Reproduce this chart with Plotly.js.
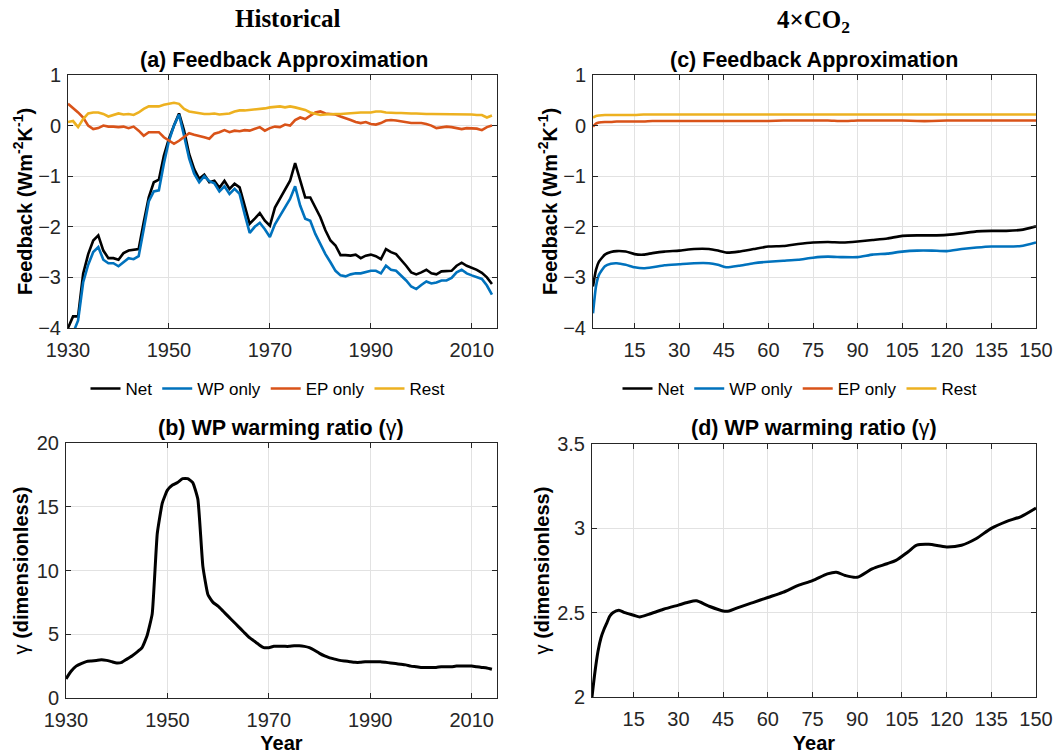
<!DOCTYPE html>
<html>
<head>
<meta charset="utf-8">
<script src="https://cdn.plot.ly/plotly-3.0.1.min.js"></script>
<style>
  html, body { margin: 0; padding: 0; background: #fff; }
  #chart { width: 1055px; height: 754px; }
</style>
</head>
<body>
<div id="chart"></div>
<script>
// ---------------- DATA ----------------
// Historical (annual, 1930-2014)
const histStartYear = 1930;
const netHist = [-4.0,-3.77,-3.77,-2.93,-2.54,-2.27,-2.17,-2.47,-2.62,-2.62,
  -2.65,-2.52,-2.47,-2.46,-2.44,-1.91,-1.42,-1.12,-1.07,-0.59,
  -0.26,0.0,0.24,-0.1,-0.56,-0.86,-1.05,-0.97,-1.12,-1.09,
  -1.23,-1.09,-1.25,-1.15,-1.22,-1.58,-1.94,-1.84,-1.73,-1.88,
  -1.98,-1.62,-1.45,-1.28,-1.09,-0.74,-1.09,-1.42,-1.42,-1.61,
  -1.81,-2.07,-2.27,-2.37,-2.56,-2.56,-2.57,-2.55,-2.62,-2.57,
  -2.55,-2.58,-2.64,-2.44,-2.50,-2.54,-2.65,-2.77,-2.90,-2.94,
  -2.90,-2.85,-2.92,-2.94,-2.88,-2.88,-2.87,-2.77,-2.71,-2.77,
  -2.81,-2.85,-2.91,-3.0,-3.13];
const wpHist = [-4.6,-4.1,-3.85,-3.1,-2.75,-2.5,-2.40,-2.65,-2.72,-2.72,
  -2.78,-2.70,-2.62,-2.64,-2.58,-2.05,-1.5,-1.3,-1.28,-0.75,
  -0.3,0.0,0.22,-0.2,-0.65,-0.95,-1.12,-1.0,-1.1,-1.14,
  -1.3,-1.2,-1.35,-1.25,-1.35,-1.75,-2.12,-2.0,-1.92,-2.05,
  -2.2,-1.95,-1.78,-1.61,-1.45,-1.2,-1.58,-1.84,-1.88,-2.14,
  -2.34,-2.54,-2.70,-2.87,-2.96,-2.98,-2.94,-2.92,-2.92,-2.89,
  -2.87,-2.87,-2.92,-2.77,-2.85,-2.87,-2.96,-3.06,-3.18,-3.23,
  -3.15,-3.08,-3.12,-3.10,-3.06,-3.06,-3.01,-2.90,-2.85,-2.92,
  -2.96,-3.0,-3.03,-3.16,-3.34];
const epHist = [0.43,0.35,0.26,0.16,0.0,-0.07,-0.05,0.0,-0.02,-0.02,
  -0.03,-0.02,-0.05,-0.02,-0.1,-0.2,-0.13,-0.13,-0.13,-0.23,
  -0.3,-0.36,-0.3,-0.22,-0.15,-0.18,-0.2,-0.23,-0.26,-0.16,
  -0.13,-0.09,-0.13,-0.1,-0.11,-0.09,-0.1,-0.07,-0.03,-0.1,
  -0.05,-0.02,-0.03,0.02,0.0,0.11,0.16,0.13,0.2,0.26,
  0.28,0.24,0.23,0.22,0.18,0.15,0.11,0.07,0.05,0.07,
  0.03,0.02,0.05,0.1,0.11,0.1,0.08,0.07,0.05,0.05,
  0.05,0.03,0.0,-0.05,-0.03,-0.02,-0.03,-0.05,-0.07,-0.05,
  -0.05,-0.06,-0.09,-0.03,0.0];
const restHist = [0.07,0.09,-0.03,0.13,0.24,0.26,0.26,0.23,0.18,0.21,
  0.24,0.22,0.23,0.21,0.26,0.33,0.38,0.38,0.38,0.41,
  0.43,0.45,0.43,0.33,0.28,0.26,0.24,0.23,0.23,0.24,
  0.22,0.23,0.24,0.28,0.3,0.3,0.31,0.31,0.33,0.34,
  0.36,0.37,0.38,0.36,0.38,0.36,0.33,0.31,0.26,0.23,
  0.21,0.22,0.23,0.23,0.23,0.24,0.24,0.26,0.26,0.26,
  0.26,0.28,0.28,0.26,0.25,0.25,0.25,0.24,0.24,0.24,
  0.23,0.23,0.23,0.23,0.23,0.23,0.23,0.23,0.22,0.23,
  0.22,0.21,0.21,0.16,0.2];
const gammaHist = [1.5,2.1,2.5,2.7,2.85,2.9,2.95,3.0,2.95,2.85,
  2.75,2.8,3.05,3.3,3.6,3.95,4.9,6.6,12.9,15.3,
  16.3,16.7,16.9,17.2,17.2,16.9,15.6,10.3,8.1,7.5,
  7.2,6.8,6.4,6.0,5.6,5.2,4.8,4.5,4.2,3.95,
  3.95,4.05,4.05,4.05,4.05,4.1,4.1,4.05,3.95,3.75,
  3.5,3.3,3.15,3.05,2.95,2.9,2.85,2.8,2.8,2.85,
  2.85,2.85,2.85,2.8,2.75,2.7,2.65,2.6,2.5,2.45,
  2.4,2.4,2.4,2.4,2.45,2.45,2.45,2.5,2.5,2.5,
  2.5,2.45,2.4,2.35,2.25];

// 4xCO2 feedback (years since abrupt 4xCO2)
const co2Years = [1,2,3,5,7,9,12,15,18,21,25,30,35,40,43,46,50,55,60,65,70,75,80,85,90,95,100,105,110,115,120,125,130,135,140,145,150];
const netCO2  = [-3.18,-2.85,-2.69,-2.55,-2.5,-2.48,-2.49,-2.54,-2.55,-2.52,-2.49,-2.47,-2.44,-2.44,-2.47,-2.51,-2.49,-2.44,-2.39,-2.38,-2.34,-2.31,-2.30,-2.31,-2.29,-2.26,-2.23,-2.18,-2.17,-2.17,-2.16,-2.13,-2.09,-2.08,-2.08,-2.06,-1.99];
const wpCO2   = [-3.71,-3.18,-2.95,-2.78,-2.73,-2.72,-2.75,-2.80,-2.82,-2.80,-2.76,-2.74,-2.72,-2.72,-2.75,-2.80,-2.77,-2.72,-2.69,-2.67,-2.65,-2.61,-2.59,-2.60,-2.60,-2.55,-2.53,-2.49,-2.47,-2.47,-2.48,-2.44,-2.41,-2.39,-2.39,-2.38,-2.31];
const epCO2   = [-0.02,0.04,0.06,0.07,0.07,0.08,0.08,0.08,0.08,0.09,0.09,0.09,0.09,0.09,0.09,0.09,0.09,0.09,0.09,0.1,0.1,0.1,0.1,0.09,0.1,0.1,0.1,0.1,0.09,0.09,0.1,0.1,0.1,0.1,0.1,0.1,0.1];
const restCO2 = [0.16,0.19,0.2,0.21,0.21,0.21,0.21,0.21,0.22,0.22,0.22,0.22,0.22,0.22,0.22,0.22,0.22,0.22,0.22,0.22,0.22,0.22,0.22,0.22,0.22,0.22,0.22,0.22,0.22,0.22,0.22,0.22,0.22,0.22,0.22,0.22,0.22];

// 4xCO2 WP warming ratio
const gammaCO2Years = [1,2,3,4,5,6,7,8,10,12,15,17,20,25,30,33,36,40,45,47,50,55,60,65,70,75,80,83,86,90,95,100,103,107,110,114,120,125,130,135,140,145,150];
const gammaCO2 = [2.0,2.15,2.27,2.35,2.4,2.44,2.48,2.5,2.515,2.5,2.485,2.475,2.49,2.52,2.545,2.56,2.57,2.54,2.51,2.51,2.53,2.56,2.59,2.62,2.66,2.69,2.73,2.74,2.72,2.71,2.76,2.79,2.81,2.86,2.9,2.905,2.89,2.90,2.94,3.0,3.04,3.07,3.12];

// Tick labels
const histTicks = [1930, 1950, 1970, 1990, 2010];
const co2Ticks = [15, 30, 45, 60, 75, 90, 105, 120, 135, 150];
const fbTicks = [-4, -3, -2, -1, 0, 1];
const gammaHistTicks = [0, 5, 10, 15, 20];
const gammaCO2Ticks = [2, 2.5, 3, 3.5];
const gammaCO2TickText = ['2', '2.5', '3', '3.5'];

const seriesNames = ['Net', 'WP only', 'EP only', 'Rest'];
const seriesColors = ['#000000', '#0072BD', '#D95319', '#EDB120'];

// ---------------- LAYOUT ----------------
const W = 1055, H = 754;
const fx = v => v / W;
const fy = v => 1 - v / H;
const histYears = netHist.map((_, i) => histStartYear + i);

const FONT = 'Liberation Sans, Arial, Helvetica, sans-serif';
const SERIF = 'Liberation Serif, Times New Roman, serif';

function axisBase(extra) {
  return Object.assign({
    showline: true, linecolor: '#262626', linewidth: 1, mirror: 'ticks',
    ticks: 'inside', ticklen: 5, tickwidth: 1, tickcolor: '#262626',
    showgrid: true, gridcolor: '#e2e2e2', gridwidth: 1, zeroline: false,
    tickfont: { family: FONT, size: 20, color: '#262626' },
    automargin: false, fixedrange: true
  }, extra);
}
function xAxis(extra) { return axisBase(Object.assign({ ticklabelstandoff: 4 }, extra)); }
function yAxis(extra) { return axisBase(Object.assign({ ticklabelstandoff: 2 }, extra)); }

const traces = [];
const histSeries = [netHist, wpHist, epHist, restHist];
const co2Series = [netCO2, wpCO2, epCO2, restCO2];
histSeries.forEach((s, i) => traces.push({
  x: histYears, y: s, xaxis: 'x', yaxis: 'y', type: 'scatter', mode: 'lines',
  name: seriesNames[i], legend: 'legend', line: { color: seriesColors[i], width: 2.6 }
}));
co2Series.forEach((s, i) => traces.push({
  x: co2Years, y: s, xaxis: 'x2', yaxis: 'y2', type: 'scatter', mode: 'lines',
  name: seriesNames[i], legend: 'legend2', line: { color: seriesColors[i], width: 2.6, shape: 'spline', smoothing: 0.5 }
}));
traces.push({
  x: histYears, y: gammaHist, xaxis: 'x3', yaxis: 'y3', type: 'scatter', mode: 'lines',
  showlegend: false, line: { color: '#000000', width: 3, shape: 'spline', smoothing: 0.4 }
});
traces.push({
  x: gammaCO2Years, y: gammaCO2, xaxis: 'x4', yaxis: 'y4', type: 'scatter', mode: 'lines',
  showlegend: false, line: { color: '#000000', width: 3, shape: 'spline', smoothing: 0.8 }
});

const yTitleFont = { family: FONT, size: 20, color: '#000' };
const legendCommon = {
  orientation: 'h', xanchor: 'center', yanchor: 'middle',
  font: { family: FONT, size: 17, color: '#000' }, bgcolor: 'rgba(0,0,0,0)',
  itemwidth: 30, tracegroupgap: 0
};

const layout = {
  width: W, height: H,
  margin: { l: 0, r: 0, t: 0, b: 0 },
  paper_bgcolor: '#fff', plot_bgcolor: '#fff',
  font: { family: FONT, color: '#000' },
  xaxis: xAxis({ domain: [fx(68), fx(497)], anchor: 'y', range: [1930, 2015], tickvals: histTicks }),
  yaxis: yAxis({ domain: [fy(328), fy(75)], anchor: 'x', range: [-4, 1], tickvals: fbTicks,
    title: { text: '<b>Feedback (Wm<sup>-2</sup>K<sup>-1</sup>)</b>', font: yTitleFont, standoff: 0 } }),
  xaxis2: xAxis({ domain: [fx(593), fx(1036)], anchor: 'y2', range: [1, 150], tickvals: co2Ticks }),
  yaxis2: yAxis({ domain: [fy(328), fy(75)], anchor: 'x2', range: [-4, 1], tickvals: fbTicks,
    title: { text: '<b>Feedback (Wm<sup>-2</sup>K<sup>-1</sup>)</b>', font: yTitleFont, standoff: 0 } }),
  xaxis3: xAxis({ domain: [fx(66), fx(497)], anchor: 'y3', range: [1930, 2015], tickvals: histTicks,
    title: { text: '<b>Year</b>', font: yTitleFont, standoff: 6 } }),
  yaxis3: yAxis({ domain: [fy(698), fy(443)], anchor: 'x3', range: [0, 20], tickvals: gammaHistTicks,
    title: { text: 'γ <b>(dimensionless)</b>', font: yTitleFont, standoff: 2 } }),
  xaxis4: xAxis({ domain: [fx(592), fx(1036)], anchor: 'y4', range: [1, 150], tickvals: co2Ticks,
    title: { text: '<b>Year</b>', font: yTitleFont, standoff: 6 } }),
  yaxis4: yAxis({ domain: [fy(697), fy(444)], anchor: 'x4', range: [2, 3.5], tickvals: gammaCO2Ticks,
    ticktext: gammaCO2TickText,
    title: { text: 'γ <b>(dimensionless)</b>', font: yTitleFont, standoff: 2 } }),
  legend: Object.assign({ x: fx(268), y: fy(389) }, legendCommon),
  legend2: Object.assign({ x: fx(800), y: fy(389) }, legendCommon),
  annotations: [
    { text: '<b>Historical</b>', x: fx(288), y: fy(19), xref: 'paper', yref: 'paper',
      xanchor: 'center', yanchor: 'middle', showarrow: false, font: { family: SERIF, size: 25, color: '#000' } },
    { text: '<b>4×CO<sub>2</sub></b>', x: fx(813), y: fy(22), xref: 'paper', yref: 'paper',
      xanchor: 'center', yanchor: 'middle', showarrow: false, font: { family: SERIF, size: 25, color: '#000' } },
    { text: '<b>(a) Feedback Approximation</b>', x: fx(284), y: fy(60), xref: 'paper', yref: 'paper',
      xanchor: 'center', yanchor: 'middle', showarrow: false, font: { family: FONT, size: 21.5, color: '#000' } },
    { text: '<b>(c) Feedback Approximation</b>', x: fx(814), y: fy(60), xref: 'paper', yref: 'paper',
      xanchor: 'center', yanchor: 'middle', showarrow: false, font: { family: FONT, size: 21.5, color: '#000' } },
    { text: '<b>(b) WP warming ratio (</b>γ<b>)</b>', x: fx(281), y: fy(428), xref: 'paper', yref: 'paper',
      xanchor: 'center', yanchor: 'middle', showarrow: false, font: { family: FONT, size: 21.5, color: '#000' } },
    { text: '<b>(d) WP warming ratio (</b>γ<b>)</b>', x: fx(814), y: fy(428), xref: 'paper', yref: 'paper',
      xanchor: 'center', yanchor: 'middle', showarrow: false, font: { family: FONT, size: 21.5, color: '#000' } }
  ]
};

Plotly.newPlot('chart', traces, layout, { displayModeBar: false, staticPlot: true });
</script>
</body>
</html>
